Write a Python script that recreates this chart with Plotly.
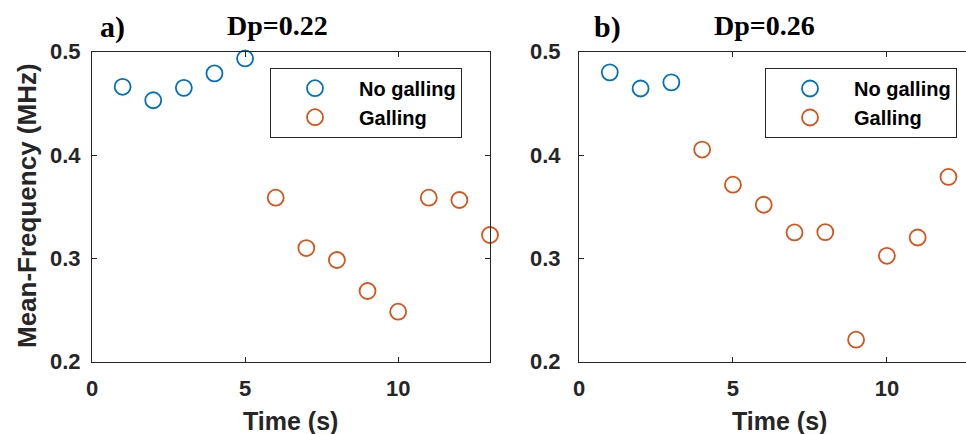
import plotly.graph_objects as go

# Panel a) Dp=0.22
a_no_t = [1, 2, 3, 4, 5]
a_no_f = [0.466, 0.453, 0.465, 0.479, 0.4935]
a_g_t = [6, 7, 8, 9, 10, 11, 12, 13]
a_g_f = [0.3587, 0.310, 0.2984, 0.2684, 0.2484, 0.3587, 0.3565, 0.3226]

# Panel b) Dp=0.26
b_no_t = [1, 2, 3]
b_no_f = [0.480, 0.4644, 0.4703]
b_g_t = [4, 5, 6, 7, 8, 9, 10, 11, 12]
b_g_f = [0.4053, 0.3713, 0.3519, 0.3251, 0.3254, 0.2213, 0.3025, 0.3202, 0.3788]

x_ticks = [0, 5, 10]
y_ticks = [0.2, 0.3, 0.4, 0.5]

BLUE = "#0072BD"
ORANGE = "#D95319"
AX = "#262626"
SANS = "Liberation Sans, Arial, sans-serif"
SERIF = "Liberation Serif, Times New Roman, serif"

W, H = 966, 434
def px(x):
    return x / W
def py(y):
    return 1 - y / H

fig = go.Figure()

def mk(color):
    return dict(symbol="circle-open", size=16, color=color, line=dict(width=1.8, color=color))

fig.add_trace(go.Scatter(x=a_no_t, y=a_no_f, mode="markers", name="No galling", marker=mk(BLUE),
                         xaxis="x", yaxis="y", legend="legend", cliponaxis=False))
fig.add_trace(go.Scatter(x=a_g_t, y=a_g_f, mode="markers", name="Galling", marker=mk(ORANGE),
                         xaxis="x", yaxis="y", legend="legend", cliponaxis=False))
fig.add_trace(go.Scatter(x=b_no_t, y=b_no_f, mode="markers", name="No galling", marker=mk(BLUE),
                         xaxis="x2", yaxis="y2", legend="legend2", cliponaxis=False))
fig.add_trace(go.Scatter(x=b_g_t, y=b_g_f, mode="markers", name="Galling", marker=mk(ORANGE),
                         xaxis="x2", yaxis="y2", legend="legend2", cliponaxis=False))

tickfont = dict(family=SANS, size=22, color=AX, weight="bold")
common = dict(showgrid=False, zeroline=False, showline=True, linecolor=AX, linewidth=1,
              ticks="inside", ticklen=5, tickcolor=AX, tickfont=tickfont, automargin=False)

ydom = [py(361.7), py(51.7)]
legfont = dict(family=SANS, size=20, color="black", weight="bold")
fig.update_layout(
    width=W, height=H, margin=dict(l=0, r=0, t=0, b=0, autoexpand=False),
    paper_bgcolor="white", plot_bgcolor="white",
    xaxis=dict(domain=[px(92), px(490)], range=[0, 13], tickvals=x_ticks, mirror="ticks",
               anchor="y", ticklabelstandoff=7, **common),
    yaxis=dict(domain=ydom, range=[0.2, 0.5], tickvals=y_ticks, tickformat=".1f", mirror="ticks",
               anchor="x", ticklabelstandoff=6, **common),
    xaxis2=dict(domain=[px(579), 1.0], range=[0, 12.57], tickvals=x_ticks, mirror="ticks",
                anchor="y2", ticklabelstandoff=7, **common),
    yaxis2=dict(domain=ydom, range=[0.2, 0.5], tickvals=y_ticks, tickformat=".1f", mirror=False,
                anchor="x2", ticklabelstandoff=13, **common),
    legend=dict(x=px(270), y=py(67.7), xanchor="left", yanchor="top", bordercolor=AX, borderwidth=1,
                bgcolor="white", itemwidth=78, font=legfont),
    legend2=dict(x=px(765), y=py(68), xanchor="left", yanchor="top", bordercolor=AX, borderwidth=1,
                 bgcolor="white", itemwidth=78, font=legfont),
    showlegend=True,
)

def a(text, x, y, size, family, color, angle=0):
    return dict(text=text, x=px(x), y=py(y), xref="paper", yref="paper", showarrow=False,
                xanchor="center", yanchor="middle", textangle=angle,
                font=dict(family=family, size=size, color=color, weight="bold"))

ann = [
    a("a)", 112, 27, 30, SERIF, "black"),
    a("Dp=0.22", 277, 25, 28, SERIF, "black"),
    a("b)", 607, 27, 30, SERIF, "black"),
    a("Dp=0.26", 764, 25, 28, SERIF, "black"),
    a("Time (s)", 290, 421, 25, SANS, AX),
    a("Time (s)", 779, 421, 25, SANS, AX),
    a("Mean-Frequency (MHz)", 27, 206, 26, SANS, AX, -90),
]
fig.update_layout(annotations=ann)

fig.write_html("out.html")
